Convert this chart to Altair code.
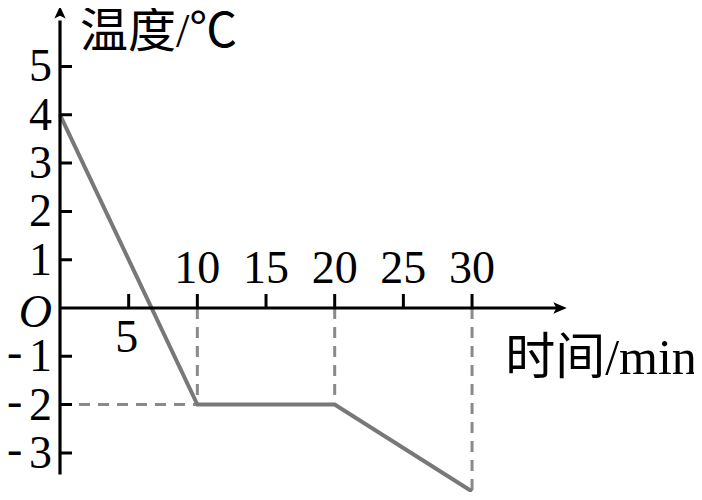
import altair as alt
import pandas as pd

# ---- data ----
time_min = [0, 10, 20, 30]
temp_c = [4, -2, -2, -3.8]

y_tick_vals = [-3, -2, -1, 1, 2, 3, 4, 5]
y_tick_digits = ["3", "2", "1", "1", "2", "3", "4", "5"]
minus_sign = "-"
x_tick_vals = [5, 10, 15, 20, 25, 30]
x_labels_above = [10, 15, 20, 25, 30]
x_labels_below = [5]

y_title = "温度/℃"
x_title = "时间/min"
origin_label = "O"

# axis extents (data units)
x_axis_end = 36.9
y_axis_top = 6.25
y_axis_line_top = 5.95
x_axis_line_end = 36.4
y_axis_bottom = -3.45

# ---- styles ----
W, H = 686, 484
X_DOMAIN = [-3.786, 46.16]
Y_DOMAIN = [-3.81, 6.211]
SERIF = "Liberation Serif, Times New Roman, Noto Sans CJK SC"
CJK = "Liberation Serif, Noto Sans CJK SC"
FS = 46
AX = "#000000"
LINE = "#787878"
DASH = "#8a8a8a"

xs = alt.Scale(domain=X_DOMAIN, nice=False, zero=False)
ys = alt.Scale(domain=Y_DOMAIN, nice=False, zero=False)


def X(f="x"):
    return alt.X(f, type="quantitative", scale=xs, axis=None)


def Y(f="y"):
    return alt.Y(f, type="quantitative", scale=ys, axis=None)


# main data line
line_df = pd.DataFrame({"x": time_min, "y": temp_c})
line = alt.Chart(line_df).mark_line(color=LINE, strokeWidth=4, strokeJoin="miter").encode(
    x=X(), y=Y(), order="x:Q"
)

# dashed guides
guides = []
for t, v in zip(time_min[1:], temp_c[1:]):
    guides.append({"x": t, "y": 0, "x2": t, "y2": v})
guides.append({"x": 0, "y": temp_c[1], "x2": time_min[1], "y2": temp_c[1]})
guide_df = pd.DataFrame(guides)
dashed = alt.Chart(guide_df).mark_rule(color=DASH, strokeWidth=3, strokeDash=[11, 8]).encode(
    x=X(), y=Y(), x2="x2:Q", y2="y2:Q"
)

# axes lines
axes_df = pd.DataFrame([
    {"x": 0, "y": y_axis_bottom, "x2": 0, "y2": y_axis_line_top},
    {"x": 0, "y": 0, "x2": x_axis_line_end, "y2": 0},
])
axes = alt.Chart(axes_df).mark_rule(color=AX, strokeWidth=3.2).encode(
    x=X(), y=Y(), x2="x2:Q", y2="y2:Q"
)

# arrowheads
up_arrow = "M0,0 L0.9,2 L0,1.55 L-0.9,2 Z"
right_arrow = "M0,0 L-2,0.85 L-1.55,0 L-2,-0.85 Z"
ya = alt.Chart(pd.DataFrame({"x": [0], "y": [y_axis_top]})).mark_point(
    shape=up_arrow, size=156, filled=True, color=AX, opacity=1, strokeWidth=0
).encode(x=X(), y=Y())
xa = alt.Chart(pd.DataFrame({"x": [x_axis_end], "y": [0]})).mark_point(
    shape=right_arrow, size=182, filled=True, color=AX, opacity=1, strokeWidth=0
).encode(x=X(), y=Y())

# ticks
ytick = alt.Chart(pd.DataFrame({"x": [0] * len(y_tick_vals), "y": y_tick_vals})).mark_tick(
    orient="horizontal", size=12, thickness=3, color=AX, opacity=1, xOffset=6
).encode(x=X(), y=Y())
xtick = alt.Chart(pd.DataFrame({"x": x_tick_vals, "y": [0] * len(x_tick_vals)})).mark_tick(
    orient="vertical", size=14, thickness=3, color=AX, opacity=1, yOffset=-7
).encode(x=X(), y=Y())

# tick labels
ylab = alt.Chart(pd.DataFrame({"x": [0] * len(y_tick_vals), "y": y_tick_vals, "t": y_tick_digits})).mark_text(
    align="right", baseline="middle", dx=-8, dy=1, font=SERIF, fontSize=FS, color=AX
).encode(x=X(), y=Y(), text="t:N")
neg_vals = [v for v in y_tick_vals if v < 0]
yminus = alt.Chart(pd.DataFrame({"x": [0] * len(neg_vals), "y": neg_vals, "t": [minus_sign] * len(neg_vals)})).mark_text(
    align="left", baseline="middle", dx=-53, dy=-3, font=SERIF, fontSize=FS, color=AX
).encode(x=X(), y=Y(), text="t:N")
xlab_up = alt.Chart(pd.DataFrame({"x": x_labels_above, "y": [0] * len(x_labels_above)})).mark_text(
    align="center", baseline="alphabetic", dy=-25, font=SERIF, fontSize=FS, color=AX
).encode(x=X(), y=Y(), text="x:Q")
xlab_dn = alt.Chart(pd.DataFrame({"x": x_labels_below, "y": [0] * len(x_labels_below)})).mark_text(
    align="center", baseline="alphabetic", dx=-2, dy=44, font=SERIF, fontSize=FS, color=AX
).encode(x=X(), y=Y(), text="x:Q")
olab = alt.Chart(pd.DataFrame({"x": [0], "y": [0], "t": [origin_label]})).mark_text(
    align="right", baseline="middle", dx=-8, dy=5, font=SERIF, fontSize=FS, fontStyle="italic", color=AX
).encode(x=X(), y=Y(), text="t:N")

# axis titles
ytitle = alt.Chart(pd.DataFrame({"x": [0], "y": [y_axis_top], "t": [y_title]})).mark_text(
    align="left", baseline="alphabetic", dx=20, dy=41, font=CJK, fontSize=48, color=AX
).encode(x=X(), y=Y(), text="t:N")
xtitle = alt.Chart(pd.DataFrame({"x": [x_axis_end], "y": [0], "t": [x_title]})).mark_text(
    align="right", baseline="alphabetic", dx=130, dy=66, font=CJK, fontSize=50, color=AX
).encode(x=X(), y=Y(), text="t:N")

chart = alt.layer(
    dashed, line, axes, ya, xa, ytick, xtick, ylab, yminus, xlab_up, xlab_dn, olab, ytitle, xtitle
).properties(
    width=W, height=H, autosize=alt.AutoSizeParams(type="none"), padding=0, background="white"
).configure_view(stroke=None)

chart.save("out.html", embed_options={"renderer": "svg", "actions": False})
